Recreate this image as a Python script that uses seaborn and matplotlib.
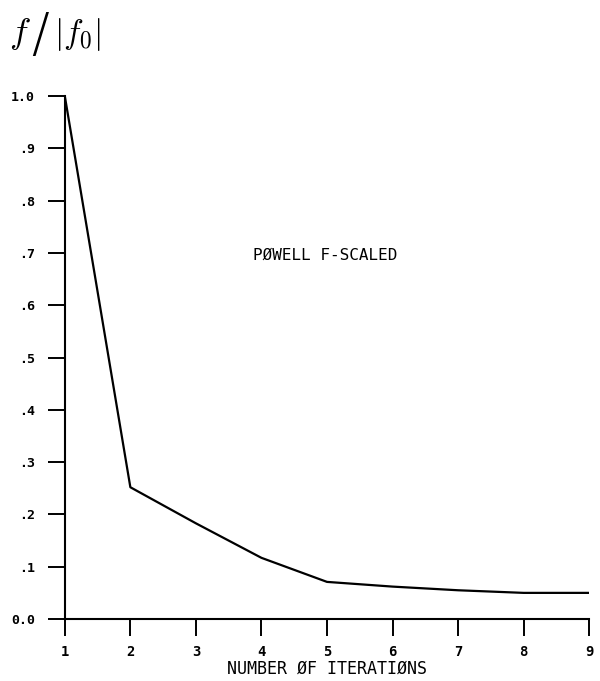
import pandas as pd
import matplotlib
matplotlib.use("Agg")
import matplotlib.pyplot as plt
import seaborn as sns

# values
iterations = [1, 2, 3, 4, 5, 6, 7, 8, 9]
f_scaled = [1.0, 0.252, 0.183, 0.117, 0.071, 0.062, 0.055, 0.050, 0.050]
x_ticks = [1, 2, 3, 4, 5, 6, 7, 8, 9]
y_ticks = [0.0, 0.1, 0.2, 0.3, 0.4, 0.5, 0.6, 0.7, 0.8, 0.9, 1.0]
y_labels = ["0.0", ".1", ".2", ".3", ".4", ".5", ".6", ".7", ".8", ".9", "1.0"]

df = pd.DataFrame({"Iteration": iterations, "f": f_scaled})

sns.set_style("ticks")
plt.rcParams["font.family"] = ["DejaVu Sans Mono", "DejaVu Sans"]
plt.rcParams["mathtext.fontset"] = "cm"
plt.rcParams["text.color"] = "black"
plt.rcParams["xtick.color"] = "black"
plt.rcParams["ytick.color"] = "black"
plt.rcParams["axes.labelcolor"] = "black"

fig = plt.figure(figsize=(6, 6.81), dpi=100)
ax = fig.add_axes([0.108, 0.091, 0.874, 0.768])

sns.lineplot(x="Iteration", y="f", data=df, color="black", linewidth=1.6, ax=ax)

ax.set_xlim(1, 9)
ax.set_ylim(0, 1.0)
ax.set_xticks(x_ticks)
ax.set_xticklabels([str(v) for v in x_ticks], fontsize=10, fontweight="bold")
ax.set_yticks(y_ticks)
ax.set_yticklabels(y_labels, fontsize=9.5, fontweight="bold")
ax.tick_params(axis="both", direction="out", length=12.5, width=1.4, color="black")
ax.tick_params(axis="y", pad=9)
ax.tick_params(axis="x", pad=6)

sns.despine(ax=ax)
for s in ["left", "bottom"]:
    ax.spines[s].set_linewidth(1.5)
    ax.spines[s].set_color("black")

ax.set_xlabel("NUMBER ØF ITERATIØNS", fontsize=12, labelpad=1)
ax.set_ylabel("")

ax.text(3.87, 0.696, "PØWELL F-SCALED", fontsize=11.5, va="center", ha="left")

# y label at top left: f / |f0|
fig.text(0.015, 0.95, r"$f$", fontsize=26, va="center", ha="left")
fig.text(0.052, 0.946, "/", fontsize=38, va="center", ha="left", family="DejaVu Sans",
         fontweight="light")
fig.text(0.09, 0.95, r"$|f_0|$", fontsize=24, va="center", ha="left")

plt.savefig("out.png", dpi=100)
